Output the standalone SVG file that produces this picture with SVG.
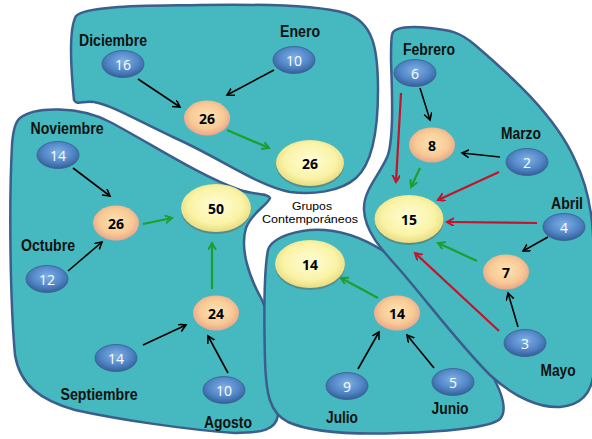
<svg xmlns="http://www.w3.org/2000/svg" width="592" height="439" viewBox="0 0 592 439">
<style>
.blob{fill:#45B9BF;stroke:#3B5E8C;stroke-width:2.5}
.lbl{font-family:"Liberation Sans",Arial,sans-serif;font-weight:bold;font-size:16px;fill:#111;text-anchor:middle}
.bn{font-family:"Open Sans","Liberation Sans",sans-serif;font-size:14px;fill:#fff;text-anchor:middle;dominant-baseline:central}
.on{font-family:"Open Sans","Liberation Sans",sans-serif;font-weight:bold;font-size:14px;fill:#000;text-anchor:middle;dominant-baseline:central}
.blue{fill:url(#gBlue);stroke:#37608F;stroke-width:0.8}
.orange{fill:url(#gOrange)}
.yellow{fill:url(#gYellow)}
.shadow{fill:#5a6a6a;opacity:0.55}
.k{stroke:#000;stroke-width:1.6;fill:none;marker-end:url(#aK)}
.g{stroke:#1E9E2E;stroke-width:2.2;fill:none;marker-end:url(#aG)}
.r{stroke:#C4142C;stroke-width:2.2;fill:none;marker-end:url(#aR)}
.gc{font-family:"Liberation Sans",Arial,sans-serif;font-size:11px;fill:#000;text-anchor:middle}
</style>
<defs>
<radialGradient id="gBlue" cx="50%" cy="40%" r="60%">
<stop offset="0" stop-color="#7FB0E6"/>
<stop offset="0.6" stop-color="#5286C6"/>
<stop offset="1" stop-color="#355F9A"/>
</radialGradient>
<radialGradient id="gOrange" cx="50%" cy="45%" r="55%">
<stop offset="0" stop-color="#FCE3B4"/>
<stop offset="0.65" stop-color="#F8CA95"/>
<stop offset="1" stop-color="#EBA68C"/>
</radialGradient>
<radialGradient id="gYellow" cx="50%" cy="45%" r="55%">
<stop offset="0" stop-color="#FFFDD6"/>
<stop offset="0.7" stop-color="#FAF3A6"/>
<stop offset="1" stop-color="#E9DB80"/>
</radialGradient>
<marker id="aK" markerWidth="10" markerHeight="10" refX="7" refY="4" orient="auto" markerUnits="userSpaceOnUse"><path d="M0,0 L7,4 L0,8" fill="none" stroke="#000" stroke-width="1.6"/></marker>
<marker id="aG" markerWidth="10" markerHeight="10" refX="7" refY="4" orient="auto" markerUnits="userSpaceOnUse"><path d="M0,0 L7,4 L0,8" fill="none" stroke="#1E9E2E" stroke-width="2"/></marker>
<marker id="aR" markerWidth="10" markerHeight="10" refX="7" refY="4" orient="auto" markerUnits="userSpaceOnUse"><path d="M0,0 L7,4 L0,8" fill="none" stroke="#C4142C" stroke-width="2"/></marker>
</defs>
<rect width="592" height="439" fill="#fff"/>
<g id="regions">
<path class="blob" d="M74,100 C71,70 68,30 76,16 C86,5 150,6 200,5 C260,4 320,6 345,13 C374,22 378,50 378,90 C378,130 373,163 356,178 C340,192 312,195 290,192 C258,186 220,158 175,138 C140,122 112,105 94,102 C84,100 77,106 74,100 Z"/>
<path class="blob" d="M20,118 C35,106 80,106 110,122 C150,143 200,176 240,190 C255,195 268,193 270,198 C268,205 252,212 246,228 C240,248 248,275 262,300 C275,330 280,370 278,415 C276,430 262,433 235,433 C190,430 120,420 75,410 C40,400 20,385 15,355 C10,300 9,200 12,145 C13,130 15,122 20,118 Z"/>
<path class="blob" d="M268,250 C272,237 300,228 325,230 C350,232 375,243 400,263 C440,295 470,335 492,375 C502,393 508,410 500,419 C490,428 440,432 400,433 C350,435 310,432 288,422 C270,413 266,395 265,360 C264,320 264,270 268,250 Z"/>
<path class="blob" d="M392,35 C393,27 410,26 430,28 C450,30 460,32 475,45 C510,75 555,115 575,160 C592,195 594,230 594,270 L594,370 C592,395 580,405 560,407 C540,408 515,398 490,375 C460,345 430,305 400,270 C382,250 365,232 364,210 C363,190 380,175 388,155 C394,135 392,90 391,60 C391,45 391,40 392,35 Z"/>
</g>
<g id="labels">
<text class="lbl" x="113" y="46" textLength="68" lengthAdjust="spacingAndGlyphs">Diciembre</text>
<text class="lbl" x="300" y="37" textLength="40" lengthAdjust="spacingAndGlyphs">Enero</text>
<text class="lbl" x="429" y="55" textLength="52" lengthAdjust="spacingAndGlyphs">Febrero</text>
<text class="lbl" x="521" y="139" textLength="40" lengthAdjust="spacingAndGlyphs">Marzo</text>
<text class="lbl" x="567" y="209" textLength="32" lengthAdjust="spacingAndGlyphs">Abril</text>
<text class="lbl" x="558" y="376" textLength="35" lengthAdjust="spacingAndGlyphs">Mayo</text>
<text class="lbl" x="450" y="414" textLength="37" lengthAdjust="spacingAndGlyphs">Junio</text>
<text class="lbl" x="342" y="423" textLength="32" lengthAdjust="spacingAndGlyphs">Julio</text>
<text class="lbl" x="228" y="428" textLength="48" lengthAdjust="spacingAndGlyphs">Agosto</text>
<text class="lbl" x="99" y="400" textLength="77" lengthAdjust="spacingAndGlyphs">Septiembre</text>
<text class="lbl" x="48" y="251" textLength="54" lengthAdjust="spacingAndGlyphs">Octubre</text>
<text class="lbl" x="67" y="134" textLength="73" lengthAdjust="spacingAndGlyphs">Noviembre</text>
<text class="gc" x="312" y="210" textLength="40" lengthAdjust="spacingAndGlyphs">Grupos</text>
<text class="gc" x="310" y="223" textLength="96" lengthAdjust="spacingAndGlyphs">Contemporáneos</text>
</g>
<g id="connectors">
<line class="k" x1="138" y1="79" x2="180" y2="107"/>
<line class="k" x1="274" y1="70" x2="227" y2="95"/>
<line class="g" x1="227" y1="130" x2="269" y2="148"/>
<line class="k" x1="420" y1="88" x2="430" y2="120"/>
<line class="k" x1="500" y1="157" x2="462" y2="153"/>
<line class="r" x1="401" y1="93" x2="396" y2="182"/>
<line class="g" x1="420" y1="168" x2="411" y2="187"/>
<line class="r" x1="499" y1="172" x2="438" y2="200"/>
<line class="r" x1="537" y1="223" x2="447" y2="222"/>
<line class="k" x1="548" y1="237" x2="523" y2="251"/>
<line class="g" x1="477" y1="261" x2="438" y2="243"/>
<line class="r" x1="499" y1="331" x2="415" y2="253"/>
<line class="k" x1="518" y1="327" x2="508" y2="293"/>
<line class="k" x1="73" y1="168" x2="110" y2="196"/>
<line class="k" x1="68" y1="271" x2="102" y2="242"/>
<line class="g" x1="143" y1="224" x2="172" y2="218"/>
<line class="g" x1="212" y1="289" x2="212" y2="243"/>
<line class="k" x1="143" y1="345" x2="186" y2="325"/>
<line class="k" x1="228" y1="373" x2="208" y2="336"/>
<line class="k" x1="358" y1="369" x2="379" y2="332"/>
<line class="k" x1="434" y1="368" x2="407" y2="335"/>
<line class="g" x1="378" y1="298" x2="341" y2="278"/>
</g>
<g id="n-dic"><ellipse class="blue" cx="123" cy="64" rx="21" ry="13.5"/><text class="bn" x="123" y="64">16</text></g>
<g id="n-ene"><ellipse class="blue" cx="294" cy="60" rx="21" ry="13.5"/><text class="bn" x="294" y="60">10</text></g>
<g id="n-t26"><ellipse class="orange" cx="207" cy="118" rx="23" ry="17.5"/><text class="on" x="207" y="118">26</text></g>
<g id="n-g26"><ellipse class="shadow" cx="310" cy="165" rx="34" ry="23"/><ellipse class="yellow" cx="310" cy="163" rx="34" ry="23"/><text class="on" x="310" y="163">26</text></g>
<g id="n-feb"><ellipse class="blue" cx="415" cy="73" rx="21" ry="13.5"/><text class="bn" x="415" y="73">6</text></g>
<g id="n-8"><ellipse class="orange" cx="432" cy="145" rx="23" ry="17.5"/><text class="on" x="432" y="145">8</text></g>
<g id="n-mar"><ellipse class="blue" cx="527" cy="162" rx="21" ry="13.5"/><text class="bn" x="527" y="162">2</text></g>
<g id="n-g15"><ellipse class="shadow" cx="409" cy="221" rx="34.5" ry="24"/><ellipse class="yellow" cx="409" cy="219" rx="34.5" ry="24"/><text class="on" x="409" y="219">15</text></g>
<g id="n-abr"><ellipse class="blue" cx="564" cy="227" rx="21" ry="13.5"/><text class="bn" x="564" y="227">4</text></g>
<g id="n-7"><ellipse class="orange" cx="506" cy="272" rx="23" ry="17.5"/><text class="on" x="506" y="272">7</text></g>
<g id="n-may"><ellipse class="blue" cx="525" cy="343" rx="21" ry="13.5"/><text class="bn" x="525" y="343">3</text></g>
<g id="n-nov"><ellipse class="blue" cx="58" cy="155" rx="21" ry="13.5"/><text class="bn" x="58" y="155">14</text></g>
<g id="n-l26"><ellipse class="orange" cx="116" cy="223" rx="23" ry="17.5"/><text class="on" x="116" y="223">26</text></g>
<g id="n-g50"><ellipse class="shadow" cx="216" cy="210" rx="35" ry="24"/><ellipse class="yellow" cx="216" cy="208" rx="35" ry="24"/><text class="on" x="216" y="208">50</text></g>
<g id="n-oct"><ellipse class="blue" cx="47" cy="279" rx="21" ry="13.5"/><text class="bn" x="47" y="279">12</text></g>
<g id="n-24"><ellipse class="orange" cx="216" cy="313" rx="23" ry="17.5"/><text class="on" x="216" y="313">24</text></g>
<g id="n-sep"><ellipse class="blue" cx="116" cy="358" rx="21" ry="13.5"/><text class="bn" x="116" y="358">14</text></g>
<g id="n-ago"><ellipse class="blue" cx="224" cy="390" rx="21" ry="13.5"/><text class="bn" x="224" y="390">10</text></g>
<g id="n-g14"><ellipse class="shadow" cx="310" cy="266" rx="35" ry="24"/><ellipse class="yellow" cx="310" cy="264" rx="35" ry="24"/><text class="on" x="310" y="264">14</text></g>
<g id="n-14"><ellipse class="orange" cx="397" cy="313" rx="23" ry="17.5"/><text class="on" x="397" y="313">14</text></g>
<g id="n-jul"><ellipse class="blue" cx="347" cy="386" rx="21" ry="13.5"/><text class="bn" x="347" y="386">9</text></g>
<g id="n-jun"><ellipse class="blue" cx="453" cy="382" rx="21" ry="13.5"/><text class="bn" x="453" y="382">5</text></g>
</svg>
